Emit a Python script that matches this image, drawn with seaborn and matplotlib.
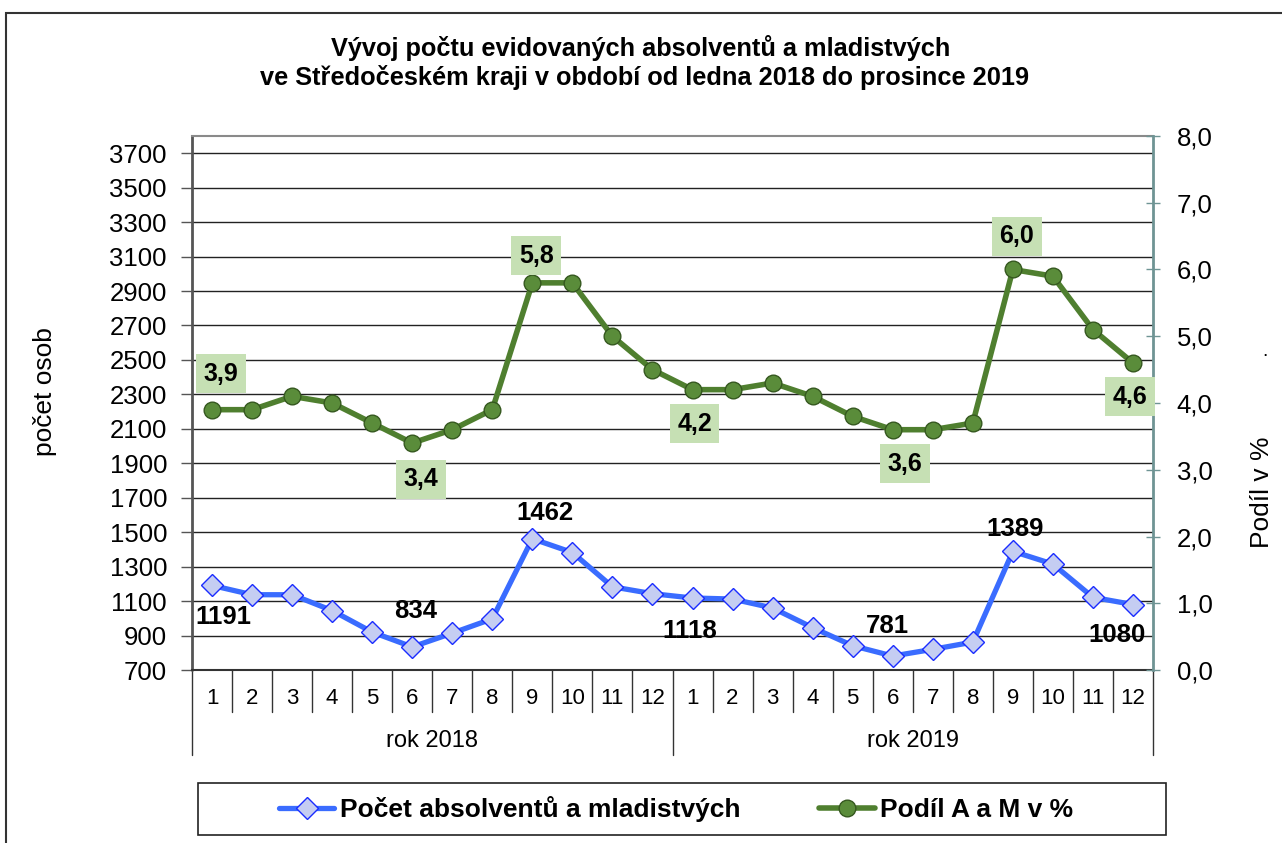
import numpy as np
import pandas as pd
import matplotlib
matplotlib.use("Agg")
import matplotlib.pyplot as plt
import seaborn as sns
from matplotlib.patches import Rectangle
from matplotlib.lines import Line2D

# data
months = list(range(1, 13)) * 2
years = ["rok 2018", "rok 2019"]
pocet = [1191, 1137, 1137, 1045, 920, 834, 914, 997, 1462, 1382, 1183, 1143,
         1118, 1112, 1060, 946, 841, 781, 820, 862, 1389, 1315, 1122, 1080]
podil = [3.9, 3.9, 4.1, 4.0, 3.7, 3.4, 3.6, 3.9, 5.8, 5.8, 5.0, 4.5,
         4.2, 4.2, 4.3, 4.1, 3.8, 3.6, 3.6, 3.7, 6.0, 5.9, 5.1, 4.6]
left_ticks = list(range(700, 3701, 200))
right_ticks = [0, 1, 2, 3, 4, 5, 6, 7, 8]

# which points get labels, with offsets in pixels (dx, dy up positive)
blue_labels = {0: (11, -32), 5: (3, 36), 8: (13, 26), 12: (-3, -33),
               17: (-5, 30), 20: (2, 22), 23: (-16, -30)}
green_labels = {0: (9, 36), 5: (9, -36), 8: (4, 27), 12: (2, -34),
                17: (12, -34), 20: (4, 33), 23: (-3, -34)}

df = pd.DataFrame({"pos": np.arange(1, 25), "pocet": pocet, "podil": podil})

sns.set_style("white")
plt.rcParams["font.family"] = ["Liberation Sans", "DejaVu Sans"]
plt.rcParams["text.color"] = "black"

W, H = 1282, 843
fig = plt.figure(figsize=(W / 100, H / 100), dpi=100)
L, R, T, B = 192, 1153, 136, 670
ax = fig.add_axes([L / W, 1 - B / H, (R - L) / W, (B - T) / H])
ax2 = ax.twinx()

blue = "#3a6cff"
green = "#4f7f2f"

sns.lineplot(data=df, x="pos", y="pocet", ax=ax, color=blue, linewidth=3.8,
             marker="D", markersize=11, markerfacecolor="#c5cdf2",
             markeredgecolor="#1a2cff", markeredgewidth=1.0, zorder=5)
sns.lineplot(data=df, x="pos", y="podil", ax=ax2, color=green, linewidth=4.0,
             marker="o", markersize=12, markerfacecolor="#5a8c3a",
             markeredgecolor="#35581f", markeredgewidth=1.0, zorder=5)

ax.set_xlim(0.5, 24.5)
ax.set_ylim(700, 3800)
ax2.set_ylim(0, 8)
ax.set_yticks(left_ticks)
ax2.set_yticks(right_ticks)
ax2.set_yticklabels([f"{v:.1f}".replace(".", ",") for v in right_ticks])
ax.set_xticks([])
ax.set_xlabel("")
ax.set_ylabel("")
ax2.set_ylabel("")

ax.yaxis.grid(True, color="#222222", linewidth=1.0)
ax.set_axisbelow(True)
ax.tick_params(axis="y", labelsize=18.5, length=8, width=1, color="#555555",
               direction="out", pad=10, labelcolor="black", left=True)
ax2.tick_params(axis="y", labelsize=18.5, length=10, width=1, color="#6f9494",
                direction="inout", pad=12, labelcolor="black", right=True)

for a in (ax, ax2):
    for s in a.spines.values():
        s.set_visible(False)
ax.spines["top"].set_visible(True)
ax.spines["top"].set_color("#8a8a8a")
ax.spines["top"].set_linewidth(1.5)
ax.spines["bottom"].set_visible(True)
ax.spines["bottom"].set_color("#333333")
ax.spines["bottom"].set_linewidth(1.5)
ax2.spines["right"].set_visible(True)
ax2.spines["right"].set_color("#6f9494")
ax2.spines["right"].set_linewidth(2)

# two-level category axis
ph = B - T
month_y = -28 / ph
year_y = -71 / ph
tr = ax.get_xaxis_transform()
for i, m in enumerate(months):
    ax.text(i + 1, month_y, str(m), transform=tr, ha="center", va="center",
            fontsize=16)
for i in range(25):
    bottom = -85 / ph if i % 12 == 0 else -42 / ph
    ax.add_line(Line2D([i + 0.5, i + 0.5], [0, bottom], transform=tr,
                       color="#333333", linewidth=1, clip_on=False))
for j, y in enumerate(years):
    ax.text(6.5 + 12 * j, year_y, y, transform=tr, ha="center", va="center",
            fontsize=17)
ax.add_line(Line2D([0.5, 0.5], [1, 0], transform=tr, color="#555555",
                   linewidth=2, clip_on=False))

# data labels
for i, (dx, dy) in blue_labels.items():
    ax.annotate(str(pocet[i]), (i + 1, pocet[i]), xytext=(dx * 0.72, dy * 0.72),
                textcoords="offset points", ha="center", va="center",
                fontsize=18.5, fontweight="bold", zorder=10)
for i, (dx, dy) in green_labels.items():
    ax2.annotate(f"{podil[i]:.1f}".replace(".", ","), (i + 1, podil[i]),
                 xytext=(dx * 0.72, dy * 0.72), textcoords="offset points",
                 ha="center", va="center", fontsize=18, fontweight="bold",
                 bbox=dict(boxstyle="square,pad=0.3", facecolor="#c6e0b4",
                           edgecolor="none"), zorder=10)

# titles and axis labels
fig.text(641 / W, 1 - 48 / H, "Vývoj počtu evidovaných absolventů a mladistvých",
         ha="center", va="center", fontsize=18.3, fontweight="bold")
fig.text(645 / W, 1 - 78 / H,
         "ve Středočeském kraji v období od ledna 2018 do prosince 2019",
         ha="center", va="center", fontsize=18.3, fontweight="bold")
fig.text(45 / W, 1 - 392 / H, "počet osob", rotation=90, ha="center",
         va="center", fontsize=19)
fig.text(1262 / W, 1 - 492 / H, "Podíl v %", rotation=90, ha="center",
         va="center", fontsize=19)
fig.text(1265 / W, 1 - 352 / H, ".", ha="center", va="center", fontsize=14)

# outer chart border
fig.patches.append(Rectangle((6 / W, -0.1), 2, 1 - 13 / H + 0.1,
                             transform=fig.transFigure, fill=False,
                             edgecolor="#333333", linewidth=1.5))

# legend
fig.patches.append(Rectangle((198 / W, 1 - 835 / H), 968 / W, 52 / H,
                             transform=fig.transFigure, fill=False,
                             edgecolor="#222222", linewidth=1.2))
h1 = Line2D([], [], color=blue, linewidth=3.8, marker="D", markersize=11,
            markerfacecolor="#c5cdf2", markeredgecolor="#1a2cff")
h2 = Line2D([], [], color=green, linewidth=4.0, marker="o", markersize=12,
            markerfacecolor="#5a8c3a", markeredgecolor="#35581f")
fig.legend([h1, h2], ["Počet absolventů a mladistvých", "Podíl A a M v %"],
           loc="center", bbox_to_anchor=(676 / W, 1 - 809 / H), ncol=2,
           frameon=False, handlelength=2.1, handletextpad=0.2,
           columnspacing=3.0, prop={"size": 19, "weight": "bold"})

fig.savefig("out.png", dpi=100, facecolor="white")
